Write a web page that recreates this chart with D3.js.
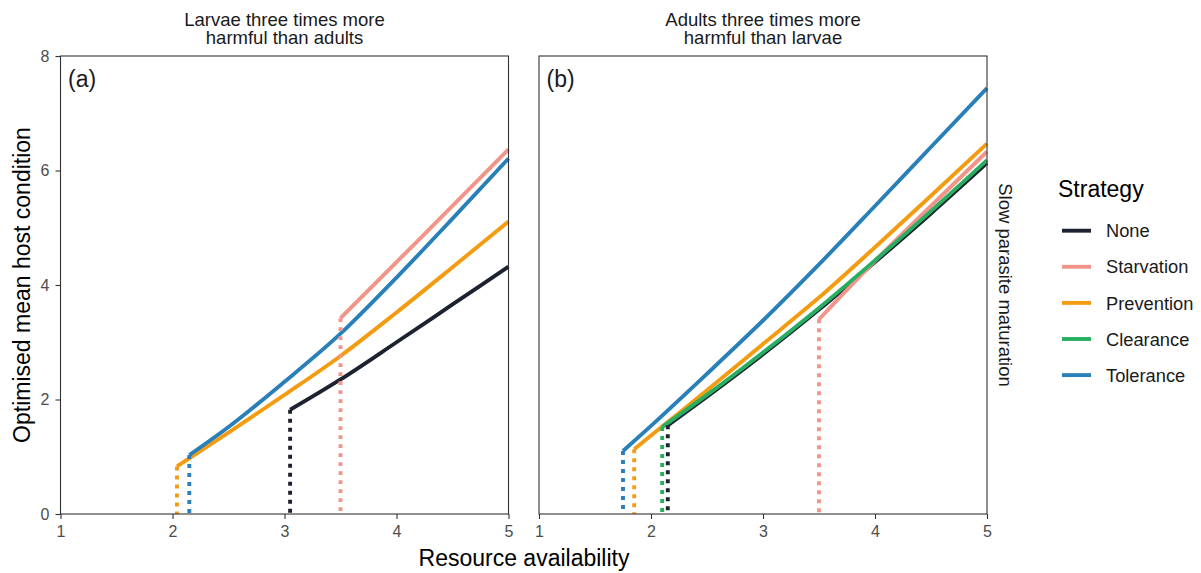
<!DOCTYPE html>
<html>
<head>
<meta charset="utf-8">
<script src="https://cdn.jsdelivr.net/npm/d3@7"></script>
<style>
  body { margin: 0; background: #fff; }
  text { font-family: "Liberation Sans", Arial, sans-serif; }
</style>
</head>
<body>
<div class="chart"></div>
<script>
// Strategy names and colours
const strategies = ["None", "Starvation", "Prevention", "Clearance", "Tolerance"];
const colours = ["#1c2230", "#f1948a", "#f39c12", "#27ae60", "#2980b9"];

// Tick labels
const xTicks = [1, 2, 3, 4, 5];
const yTicks = [0, 2, 4, 6, 8];

// Panel titles
const panelTitles = [["Larvae three times more", "harmful than adults"],
                     ["Adults three times more", "harmful than larvae"]];
const panelTags = ["(a)", "(b)"];

// Panel (a) series: [resource, condition]; first point is the threshold
const noneA = [[3.05,1.82],[3.5,2.35],[4,3.0],[4.5,3.66],[5,4.32]];
const starvationA = [[3.5,3.42],[4,4.40],[4.5,5.38],[5,6.37]];
const preventionA = [[2.04,0.83],[2.5,1.42],[3,2.08],[3.5,2.76],[4,3.52],[4.5,4.31],[5,5.11]];
const toleranceA = [[2.15,1.03],[2.5,1.52],[3,2.31],[3.5,3.15],[4,4.13],[4.5,5.16],[5,6.21]];

// Panel (b) series
const noneB = [[2.15,1.55],[2.5,2.05],[3,2.79],[3.5,3.57],[4,4.40],[4.5,5.25],[5,6.13]];
const starvationB = [[3.5,3.40],[4,4.42],[4.5,5.38],[5,6.33]];
const preventionB = [[1.85,1.13],[2,1.37],[2.5,2.16],[3,2.97],[3.5,3.78],[4,4.66],[4.5,5.56],[5,6.47]];
const clearanceB = [[2.1,1.52],[2.5,2.08],[3,2.82],[3.5,3.60],[4,4.43],[4.5,5.29],[5,6.18]];
const toleranceB = [[1.75,1.10],[2,1.54],[2.5,2.45],[3,3.38],[3.5,4.36],[4,5.38],[4.5,6.41],[5,7.44]];

const panels = [
  [noneA, starvationA, preventionA, null, toleranceA],
  [noneB, starvationB, preventionB, clearanceB, toleranceB]
];

const W = 1201, H = 573;
const plotTop = 56, plotBottom = 514;
const panelX = [[60.5, 508.5], [539, 987]];
const fontFam = "Liberation Sans, Arial, sans-serif";
const lw = 3.9;

const svg = d3.select(".chart").append("svg")
  .attr("width", W).attr("height", H);

const yScale = d3.scaleLinear().domain([0, 8]).range([plotBottom, plotTop]);

panels.forEach((series, p) => {
  const xScale = d3.scaleLinear().domain([1, 5]).range(panelX[p]);
  const g = svg.append("g");

  //solid lines
  const line = d3.line()
    .x(d => xScale(d[0]))
    .y(d => yScale(d[1]))
    .curve(d3.curveMonotoneX);

  series.forEach((s, i) => {
    if (!s) return;
    g.append("path")
      .datum(s)
      .attr("d", line)
      .attr("fill", "none")
      .attr("stroke", colours[i])
      .attr("stroke-width", lw);
  });

  //dotted drop lines at each threshold
  series.forEach((s, i) => {
    if (!s) return;
    const start = s[0];
    g.append("line")
      .attr("x1", xScale(start[0])).attr("x2", xScale(start[0]))
      .attr("y1", yScale(start[1])).attr("y2", yScale(0))
      .attr("stroke", colours[i])
      .attr("stroke-width", lw)
      .attr("stroke-dasharray", "3.9,5.1");
  });

  //border
  g.append("rect")
    .attr("x", panelX[p][0]).attr("y", plotTop)
    .attr("width", panelX[p][1] - panelX[p][0])
    .attr("height", plotBottom - plotTop)
    .attr("fill", "none")
    .attr("stroke", "#333")
    .attr("stroke-width", 1.1);

  //axes
  const xAxis = d3.axisBottom(xScale).tickValues(xTicks)
    .tickFormat(d3.format("d")).tickSize(5).tickPadding(6.5);
  const xg = g.append("g")
    .attr("transform", `translate(0,${plotBottom})`)
    .call(xAxis);
  xg.select(".domain").remove();
  xg.selectAll("line").attr("stroke", "#333").attr("stroke-width", 1.1);
  xg.selectAll("text").attr("fill", "#4d4d4d").style("font-size", "16px")
    .style("font-family", fontFam);

  const yAxis = d3.axisLeft(yScale).tickValues(yTicks)
    .tickFormat(d3.format("d")).tickSize(p == 0 ? 5 : 0).tickPadding(6);
  const yg = g.append("g")
    .attr("transform", `translate(${panelX[p][0]},0)`)
    .call(yAxis);
  yg.select(".domain").remove();
  yg.selectAll("line").attr("stroke", "#333").attr("stroke-width", 1.1);
  yg.selectAll("text").attr("fill", "#4d4d4d").style("font-size", "16px")
    .style("font-family", fontFam);
  if (p == 1) yg.selectAll("text").remove();

  //tag
  g.append("text")
    .attr("x", panelX[p][0] + 7.5).attr("y", plotTop + 31)
    .attr("fill", "#1a1a1a").style("font-size", "23px")
    .text(panelTags[p]);

  //strip title
  const cx = (panelX[p][0] + panelX[p][1]) / 2;
  panelTitles[p].forEach((t, k) => {
    g.append("text")
      .attr("x", cx).attr("y", 25.7 + k * 18.6)
      .attr("text-anchor", "middle")
      .attr("fill", "#1a1a1a").style("font-size", "18.5px")
      .text(t);
  });
});

//right strip
svg.append("text")
  .attr("transform", "translate(999,285) rotate(90)")
  .attr("text-anchor", "middle")
  .attr("fill", "#1a1a1a").style("font-size", "18.5px")
  .text("Slow parasite maturation");

//axis titles
svg.append("text")
  .attr("x", 524).attr("y", 566)
  .attr("text-anchor", "middle")
  .attr("fill", "#000").style("font-size", "23px")
  .text("Resource availability");

svg.append("text")
  .attr("transform", "translate(30,285) rotate(-90)")
  .attr("text-anchor", "middle")
  .attr("fill", "#000").style("font-size", "23px")
  .text("Optimised mean host condition");

//legend
const legend = svg.append("g");
legend.append("text")
  .attr("x", 1058).attr("y", 197.3)
  .attr("fill", "#000").style("font-size", "23px")
  .text("Strategy");

strategies.forEach((s, i) => {
  const y = 230.7 + i * 36.1;
  legend.append("line")
    .attr("x1", 1062).attr("x2", 1091)
    .attr("y1", y).attr("y2", y)
    .attr("stroke", colours[i]).attr("stroke-width", lw);
  legend.append("text")
    .attr("x", 1106).attr("y", y + 6.6)
    .attr("fill", "#1a1a1a").style("font-size", "18.3px")
    .text(s);
});
</script>
</body>
</html>
